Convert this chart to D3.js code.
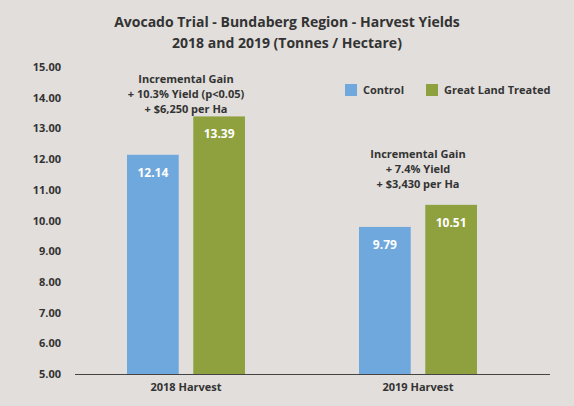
<!DOCTYPE html>
<html><head><meta charset="utf-8">
<script src="https://cdn.jsdelivr.net/npm/d3@7"></script>
<style>body{margin:0;background:#e1dedb}text{font-family:"Open Sans",sans-serif}</style>
</head><body><svg id="c" width="574" height="406"></svg>
<script>
const categories = ["2018 Harvest","2019 Harvest"];
const seriesNames = ["Control","Great Land Treated"];
const control = [12.14, 9.79];
const treated = [13.39, 10.51];
const yTicks = [5,6,7,8,9,10,11,12,13,14,15];
const notes = [["Incremental Gain","+ 10.3% Yield (p<0.05)","+ $6,250 per Ha"],["Incremental Gain","+ 7.4% Yield","+ $3,430 per Ha"]];
const colors = ["#6fa8dc","#8fa03e"];

const svg = d3.select("#c");
svg.append("rect").attr("width",574).attr("height",406).attr("fill","#e1dedb");
const y = d3.scaleLinear().domain([5,15]).range([374,67]);
const x = d3.scaleBand().domain(categories).range([70,534]);
const xs = d3.scaleBand().domain(seriesNames).range([57,175]).paddingInner(0.22);

svg.append("text").attr("x",287).attr("y",27).attr("text-anchor","middle").attr("font-size",14).attr("font-weight","bold").attr("fill","#333").text("Avocado Trial - Bundaberg Region - Harvest Yields");
svg.append("text").attr("x",287).attr("y",48).attr("text-anchor","middle").attr("font-size",14).attr("font-weight","bold").attr("fill","#333").text("2018 and 2019 (Tonnes / Hectare)");

const ax = svg.append("g").attr("transform","translate(64,0)").call(d3.axisLeft(y).tickValues(yTicks).tickFormat(d3.format(".2f")).tickSize(0));
ax.select(".domain").remove();
ax.selectAll("text").attr("font-size",11).attr("font-weight","bold").attr("fill","#333").attr("font-family","Open Sans,sans-serif");

const data = [control, treated];
data.forEach((vals,si)=>{
  categories.forEach((c,i)=>{
    const bx = x(c)+xs(seriesNames[si]);
    svg.append("rect").attr("x",bx).attr("y",y(vals[i])).attr("width",xs.bandwidth()).attr("height",y(5)-y(vals[i])).attr("fill",colors[si]);
    svg.append("text").attr("x",bx+xs.bandwidth()/2).attr("y",y(vals[i])+22).attr("text-anchor","middle").attr("font-size",12).attr("font-weight","bold").attr("fill","#fff").text(vals[i].toFixed(2));
  });
});
svg.append("line").attr("x1",75).attr("x2",550).attr("y1",374.5).attr("y2",374.5).attr("stroke","#444");
const xa = svg.append("g").attr("transform","translate(0,374)").call(d3.axisBottom(x).tickSize(0).tickPadding(9));
xa.select(".domain").remove();
xa.selectAll("text").attr("font-size",11).attr("font-weight","bold").attr("fill","#333").attr("font-family","Open Sans,sans-serif");

const noteGap = [33, 47];
notes.forEach((n,i)=>{
  const cx = x(categories[i])+x.bandwidth()/2;
  const top = y(Math.max(control[i],treated[i]))-noteGap[i];
  n.forEach((t,j)=>svg.append("text").attr("x",cx).attr("y",top+j*15).attr("text-anchor","middle").attr("font-size",11).attr("font-weight","bold").attr("fill","#333").text(t));
});

const leg = [[345,"Control"],[426,"Great Land Treated"]];
leg.forEach((l,i)=>{
  svg.append("rect").attr("x",l[0]).attr("y",84).attr("width",12).attr("height",12).attr("fill",colors[i]);
  svg.append("text").attr("x",l[0]+18).attr("y",94).attr("font-size",11).attr("font-weight","bold").attr("fill","#333").text(l[1]);
});
</script></body></html>
